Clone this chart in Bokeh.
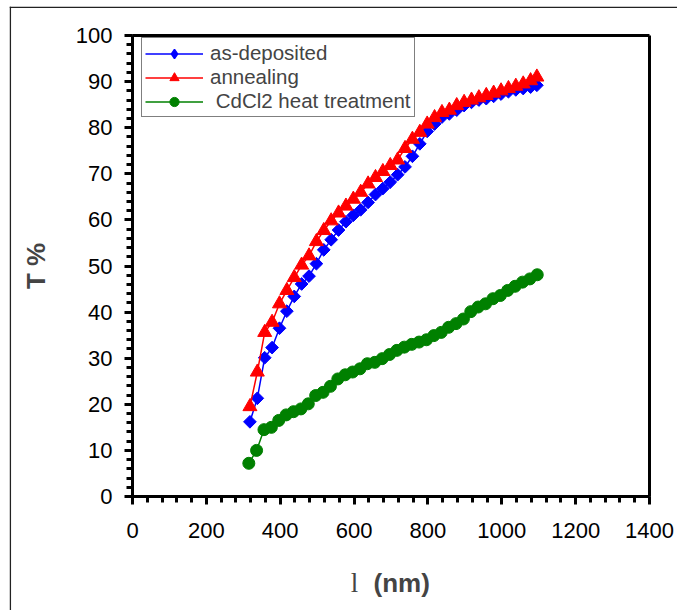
import math
from bokeh.plotting import figure
from bokeh.models import Label, Legend, LegendItem, FixedTicker, Range1d, LinearAxis, Span
from bokeh.embed import file_html
from bokeh.resources import INLINE

# ---- data ----
x_dep = [318, 338, 358, 378, 398, 418, 438, 458, 478, 498, 518, 538, 558, 578, 598, 618, 638, 658, 678, 698,
         718, 738, 758, 778, 798, 818, 838, 858, 878, 898, 918, 938, 958, 978, 998, 1018, 1038, 1058, 1078, 1095]
t_dep = [16.2, 21.3, 30.1, 32.3, 36.5, 40.2, 43.4, 46.1, 47.8, 50.5, 53.5, 55.7, 57.8, 59.6, 61.0, 62.2, 63.8,
         65.5, 66.8, 68.2, 69.8, 71.5, 73.8, 76.5, 79.2, 80.8, 82.3, 83.0, 83.8, 84.8, 85.5, 86.0, 86.3, 86.8,
         87.3, 87.8, 88.2, 88.5, 88.8, 89.2]

x_ann = [318, 338, 358, 378, 398, 418, 438, 458, 478, 498, 518, 538, 558, 578, 598, 618, 638, 658, 678, 698,
         718, 738, 758, 778, 798, 818, 838, 858, 878, 898, 918, 938, 958, 978, 998, 1018, 1038, 1058, 1078, 1095]
t_ann = [19.5, 27.0, 35.6, 37.8, 41.8, 44.7, 47.5, 50.2, 52.2, 55.3, 57.7, 59.8, 61.5, 63.0, 64.5, 66.0, 67.8,
         69.2, 70.5, 71.8, 73.0, 75.5, 77.5, 79.0, 80.8, 82.2, 83.3, 83.8, 84.8, 85.5, 86.0, 86.5, 87.0, 87.5,
         88.0, 88.5, 89.0, 89.5, 90.2, 91.0]

x_cdcl = [315, 336, 356, 376, 396, 416, 436, 456, 476, 496, 516, 536, 556, 576, 596, 616, 636, 656, 676, 696,
          716, 736, 756, 776, 796, 816, 836, 856, 876, 896, 916, 936, 956, 976, 996, 1016, 1036, 1056, 1076, 1096]
t_cdcl = [7.2, 10.0, 14.5, 15.0, 16.5, 17.7, 18.4, 19.0, 20.1, 21.9, 22.6, 23.9, 25.5, 26.4, 27.0, 27.7, 28.8,
          29.1, 29.9, 30.8, 31.7, 32.4, 33.0, 33.5, 34.0, 34.9, 35.6, 36.7, 37.5, 38.5, 40.1, 41.1, 41.8, 42.9,
          43.6, 44.7, 45.6, 46.5, 47.2, 48.1]

series_names = ["as-deposited", "annealing", " CdCl2 heat treatment"]
x_ticks = [0, 200, 400, 600, 800, 1000, 1200, 1400]
y_ticks = [0, 10, 20, 30, 40, 50, 60, 70, 80, 90, 100]
x_lim = (0, 1400)
y_lim = (0, 100)
y_title = "T %"
x_title_sym = "l"
x_title_unit = "(nm)"

FONT = "Liberation Sans"

# frame covers the whole page; the data box [0,1400]x[0,100] sits at pixels x 132..649, y 35..496
px_per_x = 517 / 1400
px_per_y = 461 / 100
x_range = Range1d((9 - 132) / px_per_x, (677 - 132) / px_per_x)
y_range = Range1d((496 - 610) / px_per_y, (496 - 6) / px_per_y)

p = figure(width=677, height=610, output_backend="svg", toolbar_location=None,
           x_range=x_range, y_range=y_range, x_axis_type=None, y_axis_type=None,
           min_border_left=9, min_border_right=0, min_border_top=6, min_border_bottom=0)
p.outline_line_color = None
p.background_fill_color = "white"
p.border_fill_color = "white"

# thin page border (left and top edges visible in the reference)
p.add_layout(Span(location=(9.8 - 132) / px_per_x, dimension="height", line_color="#222222", line_width=1.5))
p.add_layout(Span(location=(496 - 6.8) / px_per_y, dimension="width", line_color="#222222", line_width=1.5))


def style_axis(ax):
    ax.axis_line_width = 3
    ax.axis_line_color = "black"
    ax.major_tick_line_width = 3
    ax.minor_tick_line_width = 3
    ax.major_tick_in = 0
    ax.minor_tick_in = 0
    ax.major_tick_out = 8
    ax.minor_tick_out = 6
    ax.major_label_text_font = FONT
    ax.major_label_text_font_size = "22px"
    ax.major_label_text_color = "black"


xaxis = LinearAxis(fixed_location=y_lim[0], bounds=x_lim,
                   ticker=FixedTicker(ticks=x_ticks, minor_ticks=list(range(0, 1401, 40))))
style_axis(xaxis)
xaxis.major_label_standoff = 18
p.add_layout(xaxis, "below")

yaxis = LinearAxis(fixed_location=x_lim[0], bounds=y_lim,
                   ticker=FixedTicker(ticks=y_ticks, minor_ticks=list(range(0, 101, 2))))
style_axis(yaxis)
yaxis.major_label_standoff = 12
yaxis.axis_label = y_title
yaxis.axis_label_text_font = FONT
yaxis.axis_label_text_font_style = "bold"
yaxis.axis_label_text_font_size = "26px"
yaxis.axis_label_standoff = 22
p.add_layout(yaxis, "left")

top_axis = LinearAxis(fixed_location=y_lim[1], bounds=x_lim, ticker=FixedTicker(ticks=[]),
                      major_label_text_font_size="0px", axis_line_width=3, axis_line_color="black")
p.add_layout(top_axis, "above")
right_axis = LinearAxis(fixed_location=x_lim[1], bounds=y_lim, ticker=FixedTicker(ticks=[]),
                        major_label_text_font_size="0px", axis_line_width=3, axis_line_color="black")
p.add_layout(right_axis, "right")

r1 = p.line(x_dep, t_dep, line_color="blue", line_width=1.5)
m1 = p.scatter(x_dep, t_dep, marker="square", size=9, angle=math.pi / 4, fill_color="blue", line_color="blue")
# legend key proxy: a small diamond hidden inside the first rotated-square marker
m1_key = p.scatter(x_dep[:1], t_dep[:1], marker="diamond", size=7, fill_color="blue", line_color="blue",
                   line_width=1.5)
r2 = p.line(x_ann, t_ann, line_color="red", line_width=1.5)
m2 = p.scatter(x_ann, t_ann, marker="triangle", size=14, fill_color="red", line_color="red")
r3 = p.line(x_cdcl, t_cdcl, line_color="green", line_width=1.5)
m3 = p.scatter(x_cdcl, t_cdcl, marker="circle", size=12, fill_color="green", line_color="green")

legend = Legend(items=[LegendItem(label=series_names[0], renderers=[r1, m1_key]),
                       LegendItem(label=series_names[1], renderers=[r2, m2]),
                       LegendItem(label=series_names[2], renderers=[r3, m3])],
                location=(132, 493))
legend.margin = 0
legend.padding = 3
legend.spacing = 0
legend.glyph_width = 58
legend.glyph_height = 23
legend.label_height = 19
legend.label_standoff = 7
legend.label_text_font = FONT
legend.label_text_font_size = "20.5px"
legend.border_line_color = "black"
legend.border_line_width = 1
legend.background_fill_alpha = 1
p.add_layout(legend)

lab1 = Label(x=(354 - 132) / px_per_x, y=(496 - 582) / px_per_y, text=x_title_sym,
             text_font="Liberation Serif", text_font_size="27px",
             text_align="center", text_baseline="middle")
lab2 = Label(x=(373 - 132) / px_per_x, y=(496 - 582) / px_per_y, text=x_title_unit, text_font=FONT,
             text_font_style="bold", text_font_size="26px", text_align="left", text_baseline="middle")
p.add_layout(lab1)
p.add_layout(lab2)

open("out.html", "w").write(file_html(p, INLINE))
